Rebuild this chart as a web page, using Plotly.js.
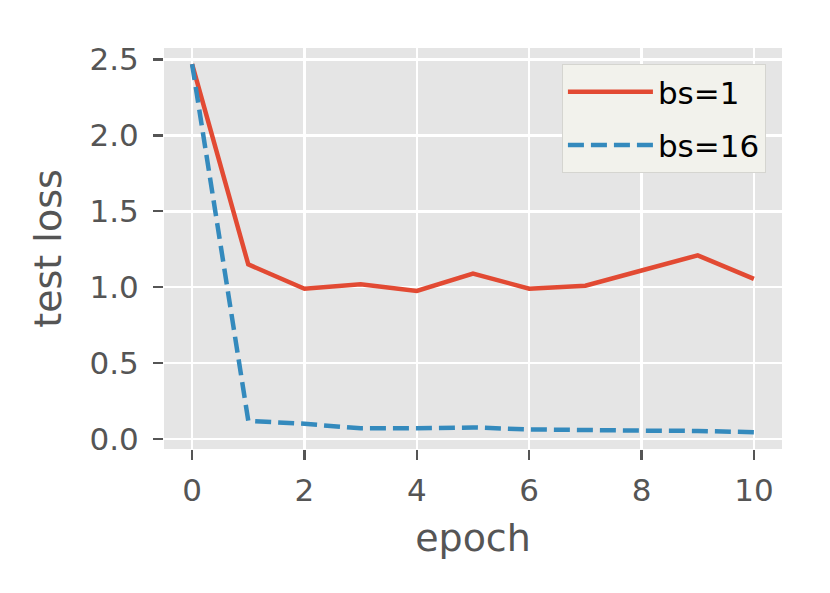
<!DOCTYPE html>
<html>
<head>
<meta charset="utf-8">
<script src="https://cdn.plot.ly/plotly-3.0.1.min.js"></script>
<style>html,body{margin:0;padding:0;background:#fff;}#chart{width:830px;height:593px;}</style>
</head>
<body>
<div id="chart"></div>
<script>
const epochs = [0, 1, 2, 3, 4, 5, 6, 7, 8, 9, 10];
const lossBs1 = [2.47, 1.15, 0.99, 1.02, 0.975, 1.09, 0.99, 1.01, 1.11, 1.21, 1.055];
const lossBs16 = [2.47, 0.12, 0.10, 0.07, 0.07, 0.076, 0.063, 0.057, 0.055, 0.053, 0.045];
const seriesNames = ["bs=1", "bs=16"];
const xTicks = [0, 2, 4, 6, 8, 10];
const yTicks = [0.0, 0.5, 1.0, 1.5, 2.0, 2.5];

const traces = [
  {x: epochs, y: lossBs1, name: seriesNames[0], legendgroup: "a", type: "scatter", mode: "lines",
   line: {color: "#E24A33", width: 4.5}},
  {x: epochs, y: lossBs16, name: seriesNames[1], legendgroup: "b", type: "scatter", mode: "lines",
   line: {color: "#348ABD", width: 4.5, dash: "16px,7px"}}
];

const axisCommon = {
  showgrid: true, gridcolor: "#ffffff", gridwidth: 2.4,
  zeroline: false, showline: false,
  ticks: "outside", ticklen: 10, tickwidth: 2.2, tickcolor: "#555555",
  tickfont: {family: "DejaVu Sans", size: 31, color: "#555555"}
};

const layout = {
  width: 830, height: 593,
  margin: {l: 164, r: 48, t: 48, b: 144},
  paper_bgcolor: "#ffffff",
  plot_bgcolor: "#E5E5E5",
  font: {family: "DejaVu Sans", color: "#555555"},
  xaxis: Object.assign({}, axisCommon, {
    range: [-0.5, 10.5], tickvals: xTicks, ticklabelstandoff: 4,
    title: {text: "epoch", font: {family: "DejaVu Sans", size: 38, color: "#555555"}, standoff: 17}
  }),
  yaxis: Object.assign({}, axisCommon, {
    range: [-0.066, 2.576], tickvals: yTicks, tickformat: ".1f", ticklabelstandoff: 8,
    title: {text: "test loss", font: {family: "DejaVu Sans", size: 38, color: "#555555"}, standoff: 16}
  }),
  legend: {
    x: 0.974, y: 0.96, xanchor: "right", yanchor: "top",
    bgcolor: "#F2F2EC", bordercolor: "#D5D5D0", borderwidth: 1,
    font: {family: "DejaVu Sans", size: 31, color: "#000000"},
    itemwidth: 85, tracegroupgap: 10, traceorder: "grouped"
  },
  showlegend: true
};

Plotly.newPlot("chart", traces, layout, {displayModeBar: false, staticPlot: true});
</script>
</body>
</html>
